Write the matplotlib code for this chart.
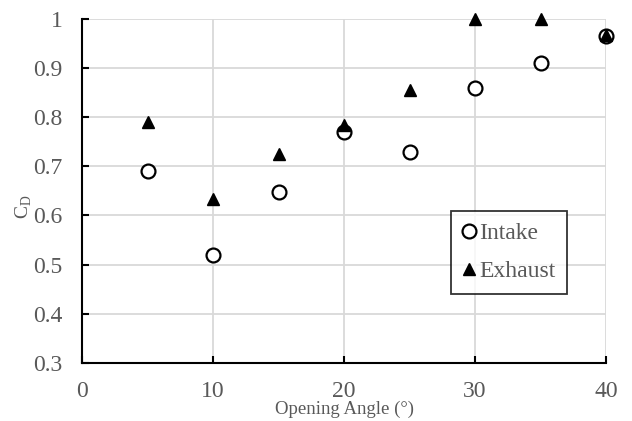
import matplotlib
matplotlib.use('Agg')
from matplotlib import pyplot as plt

# angulo de apertura y coeficientes de descarga
angulos = [5, 10, 15, 20, 25, 30, 35, 40]
cd_admision = [0.69, 0.52, 0.648, 0.77, 0.73, 0.86, 0.91, 0.965]
cd_escape = [0.79, 0.633, 0.725, 0.785, 0.855, 1.0, 1.0, 0.968]

xticks = [0, 10, 20, 30, 40]
yticks = [0.3, 0.4, 0.5, 0.6, 0.7, 0.8, 0.9, 1.0]
ylabels = ['0.3', '0.4', '0.5', '0.6', '0.7', '0.8', '0.9', '1']

plt.rcParams['font.family'] = ['Liberation Serif', 'DejaVu Serif']
gris = '#595959'

fig = plt.figure(figsize=(6.32, 4.21), dpi=100)
ax = fig.add_axes([0.13, 0.138, 0.829, 0.817])

ax.plot(angulos, cd_admision, linestyle='none', marker='o', markersize=10,
        markerfacecolor='white', markeredgecolor='black', markeredgewidth=1.6,
        label='Intake', clip_on=False, zorder=3)
ax.plot(angulos, cd_escape, linestyle='none', marker='^', markersize=9,
        color='black', label='Exhaust', clip_on=False, zorder=4)

ax.set_xlim(0, 40)
ax.set_ylim(0.3, 1.0)
ax.set_xticks(xticks)
ax.set_yticks(yticks)
ax.set_yticklabels(ylabels)
ax.grid(True, color='#d9d9d9', linewidth=1.3)
ax.set_axisbelow(True)

for lado in ['top', 'right']:
    ax.spines[lado].set_visible(False)
for lado in ['left', 'bottom']:
    ax.spines[lado].set_linewidth(1.5)
ax.tick_params(direction='in', length=5, width=1.5, labelsize=17,
               labelcolor=gris)
ax.tick_params(axis='x', pad=13)
ax.tick_params(axis='y', pad=14)

ax.set_xlabel('Opening Angle (°)', fontsize=13.5, color=gris, labelpad=-1)
ax.set_ylabel('C$_\\mathregular{D}$', fontsize=14, color=gris)
ax.yaxis.set_label_coords(-0.092, 0.455)

leg = ax.legend(loc='upper left', bbox_to_anchor=(451 / 632, 1 - 211 / 421),
                bbox_transform=fig.transFigure, borderaxespad=0, fontsize=17,
                frameon=True, fancybox=False, edgecolor='black',
                handlelength=0.5, handletextpad=0.2, borderpad=0.5,
                labelspacing=0.7)
leg.get_frame().set_linewidth(1.3)
for t in leg.get_texts():
    t.set_color(gris)

fig.savefig('out.png', dpi=100)
